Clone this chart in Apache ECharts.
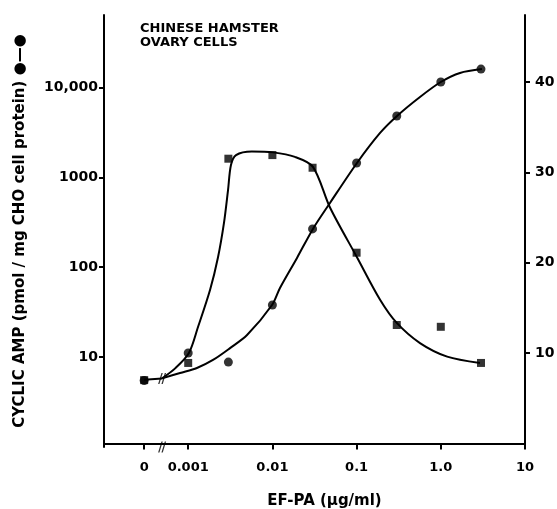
<!DOCTYPE html>
<html><head><meta charset="utf-8">
<script src="https://cdn.jsdelivr.net/npm/echarts@6/dist/echarts.min.js"></script>
<style>html,body{margin:0;padding:0;background:#fff}#c{width:557px;height:509px}</style>
</head><body><div id="c"></div>
<script>
// plotting position used for the "0" dose on the broken log axis, and the break mark position
const ZERO_X = 0.0003;
const BREAK_X = 0.00049;

// measured points
const doseLevels   = [0, 0.001, 0.003, 0.01, 0.03, 0.1, 0.3, 1.0, 3.0];
const cyclicAmp    = [5.5, 11.1, 8.8, 38, 267, 1445, 4820, 11500, 16000];   // left axis (log)
const squareValues = [7.0, 8.9, 31.5, 31.9, 30.5, 21.1, 13.1, 12.9, 8.9];   // right axis

// hand-drawn fitted curves
const ampFitX = [0.00049, 0.0008, 0.00127, 0.00197, 0.00314, 0.005, 0.0099, 0.0123, 0.0196, 0.0303, 0.0483, 0.101, 0.19, 0.302, 0.566, 1.0, 1.69, 3.08];
const ampFitY = [5.8, 6.66, 7.57, 9.3, 12.6, 17.6, 38, 58.8, 127, 267, 519, 1445, 3120, 4820, 7840, 11500, 14500, 16000];
const sqFitX  = [0.00049, 0.0007, 0.00102, 0.00131, 0.00182, 0.00226, 0.00266, 0.00297, 0.00322, 0.0037, 0.0057, 0.0102, 0.0185, 0.0303, 0.0483, 0.101, 0.19, 0.302, 0.566, 1.19, 2.92];
const sqFitY  = [7.2, 8.3, 10.0, 12.9, 17.0, 20.6, 24.4, 28.0, 30.8, 31.9, 32.3, 32.2, 31.7, 30.6, 26.1, 20.6, 15.9, 13.3, 11.1, 9.6, 8.9];
const zeroSegY = [5.6, 5.8];

// tick labels
const xTickValues = [0, 0.001, 0.01, 0.1, 1, 10];
const xTickLabels = ['0', '0.001', '0.01', '0.1', '1.0', '10'];
const leftTickValues = [10, 100, 1000, 10000];
const leftTickLabels = ['10', '100', '1000', '10,000'];
const rightTickValues = [10, 20, 30, 40];
const rightTickLabels = ['10', '20', '30', '40'];

const FONT = 'DejaVu Sans';
const toX = v => (v === 0 ? ZERO_X : v);
const near = (a, b) => Math.abs(Math.log10(a) - Math.log10(b)) < 1e-6;

const xTicksPlot = xTickValues.map(toX);

const chart = echarts.init(document.getElementById('c'), null, {renderer: 'canvas'});
chart.setOption({
  backgroundColor: '#fff',
  animation: false,
  title: {
    text: 'CHINESE HAMSTER\nOVARY CELLS',
    left: 135, top: 17,
    textStyle: {fontFamily: FONT, fontSize: 13, fontWeight: 'bold', color: '#000', lineHeight: 14}
  },
  grid: {left: 104, right: 32, top: 15, bottom: 62, containLabel: false, outerBoundsMode: 'none'},
  xAxis: {
    type: 'log', min: 0.0001, max: 10,
    name: 'EF-PA (\u03bcg/ml)', nameLocation: 'middle', nameGap: 47,
    nameTextStyle: {fontFamily: FONT, fontSize: 15, fontWeight: 'bold', color: '#000', padding: [0, 0, 0, 20]},
    axisLine: {show: true, lineStyle: {color: '#000', width: 2}},
    axisTick: {show: true, customValues: xTicksPlot, length: 6, lineStyle: {color: '#000', width: 2}},
    axisLabel: {
      customValues: xTicksPlot, margin: 14,
      fontFamily: FONT, fontSize: 13, fontWeight: 'bold', color: '#000',
      formatter: v => { for (let i = 0; i < xTicksPlot.length; i++) if (near(v, xTicksPlot[i])) return xTickLabels[i]; return ''; }
    },
    splitLine: {show: false}, minorTick: {show: false}
  },
  yAxis: [{
    type: 'log', min: 1, max: 64000, position: 'left',
    name: 'CYCLIC AMP (pmol / mg CHO cell protein) \u25cf\u2014\u25cf', nameLocation: 'middle', nameGap: 76, nameRotate: 90,
    nameTextStyle: {fontFamily: FONT, fontSize: 15, fontWeight: 'bold', color: '#000'},
    axisLine: {show: true, lineStyle: {color: '#000', width: 2}},
    axisTick: {show: true, customValues: leftTickValues, length: 5, lineStyle: {color: '#000', width: 2}},
    axisLabel: {
      customValues: leftTickValues, margin: 6,
      fontFamily: FONT, fontSize: 14, fontWeight: 'bold', color: '#000',
      formatter: v => { for (let i = 0; i < leftTickValues.length; i++) if (near(v, leftTickValues[i])) return leftTickLabels[i]; return ''; }
    },
    splitLine: {show: false}
  }, {
    type: 'value', min: -0.4, max: 47.4, position: 'right',
    axisLine: {show: true, lineStyle: {color: '#000', width: 2}},
    axisTick: {show: true, customValues: rightTickValues, length: 5, lineStyle: {color: '#000', width: 2}},
    axisLabel: {
      customValues: rightTickValues, margin: 10,
      fontFamily: FONT, fontSize: 14, fontWeight: 'bold', color: '#000',
      formatter: v => { const i = rightTickValues.indexOf(v); return i >= 0 ? rightTickLabels[i] : ''; }
    },
    splitLine: {show: false}
  }],
  series: [
    {
      name: 'cAMP fit', type: 'line', yAxisIndex: 0, smooth: 0.3, symbol: 'none',
      lineStyle: {color: '#000', width: 2}, data: ampFitX.map((x, i) => [x, ampFitY[i]]), z: 2
    },
    {
      name: 'square fit', type: 'line', yAxisIndex: 1, smooth: 0.3, symbol: 'none',
      lineStyle: {color: '#000', width: 2}, data: sqFitX.map((x, i) => [x, sqFitY[i]]), z: 2
    },
    {
      name: 'zero segment', type: 'line', yAxisIndex: 0, symbol: 'none',
      lineStyle: {color: '#000', width: 2}, data: [[ZERO_X, zeroSegY[0]], [BREAK_X, zeroSegY[1]]], z: 2
    },
    {
      name: 'CYCLIC AMP', type: 'scatter', yAxisIndex: 0, symbol: 'circle', symbolSize: 9,
      itemStyle: {color: '#000'}, data: doseLevels.map((x, i) => [toX(x), cyclicAmp[i]]), z: 3
    },
    {
      name: 'squares', type: 'scatter', yAxisIndex: 1, symbol: 'rect', symbolSize: 8,
      itemStyle: {color: '#000'}, data: doseLevels.map((x, i) => [toX(x), squareValues[i]]), z: 3
    },
    {
      name: 'breaks', type: 'scatter', yAxisIndex: 0, clip: false,
      symbol: 'path://M0,12 L4,0 L5.6,0 L1.6,12 Z M4,12 L8,0 L9.6,0 L5.6,12 Z', symbolSize: [8, 11],
      itemStyle: {color: '#000'}, data: [[BREAK_X, 1], [BREAK_X, zeroSegY[1]]], z: 4, silent: true
    }
  ]
});
</script>
</body></html>
